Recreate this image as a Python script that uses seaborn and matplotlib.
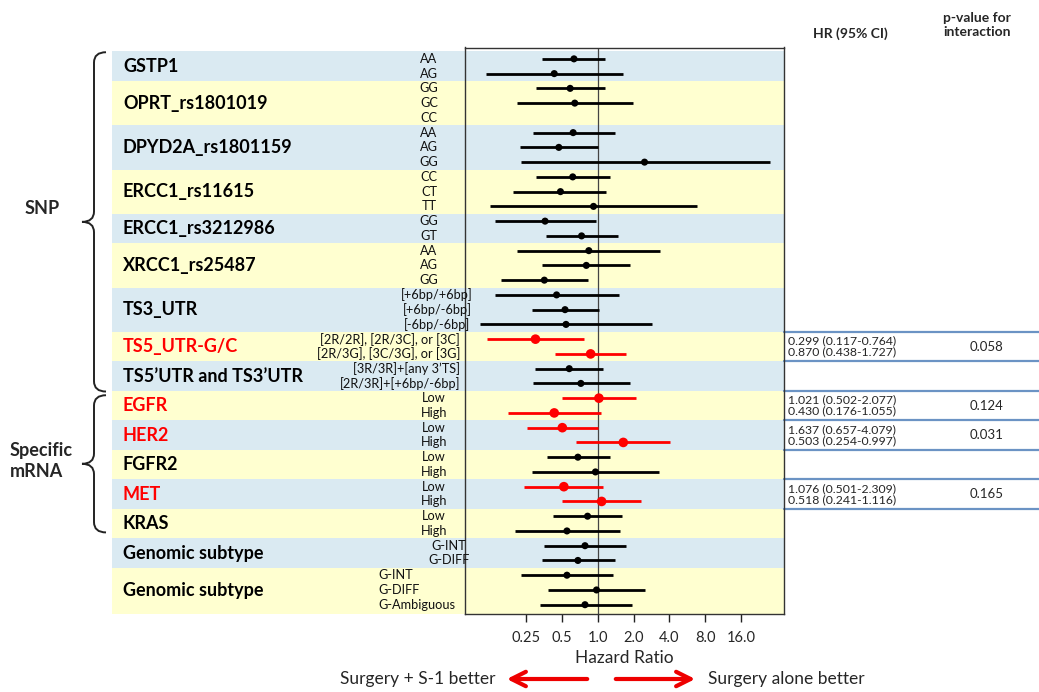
import matplotlib
matplotlib.use('Agg')
import matplotlib.pyplot as plt
import matplotlib.transforms as mtransforms
from matplotlib.patches import Rectangle, PathPatch
from matplotlib.path import Path
import numpy as np
import pandas as pd
import seaborn as sns

# --- data ------------------------------------------------------------------
genes = ['GSTP1', 'OPRT_rs1801019', 'DPYD2A_rs1801159', 'ERCC1_rs11615',
         'ERCC1_rs3212986', 'XRCC1_rs25487', 'TS3_UTR', 'TS5_UTR-G/C',
         'TS5\u2019UTR and TS3\u2019UTR', 'EGFR', 'HER2', 'FGFR2', 'MET', 'KRAS',
         'Genomic subtype', 'Genomic subtype']
subgroups = [
    ['AA', 'AG'],
    ['GG', 'GC', 'CC'],
    ['AA', 'AG', 'GG'],
    ['CC', 'CT', 'TT'],
    ['GG', 'GT'],
    ['AA', 'AG', 'GG'],
    ['[+6bp/+6bp]', '[+6bp/-6bp]', '[-6bp/-6bp]'],
    ['[2R/2R], [2R/3C], or [3C]', '[2R/3G], [3C/3G], or [3G]'],
    ['[3R/3R]+[any 3\u2019TS]', '[2R/3R]+[+6bp/-6bp]'],
    ['Low', 'High'],
    ['Low', 'High'],
    ['Low', 'High'],
    ['Low', 'High'],
    ['Low', 'High'],
    ['G-INT', 'G-DIFF'],
    ['G-INT', 'G-DIFF', 'G-Ambiguous'],
]
highlighted = ['TS5_UTR-G/C', 'EGFR', 'HER2', 'MET']

hr = [0.63, 0.43, 0.585, 0.64, np.nan, 0.62, 0.47, 2.47, 0.615, 0.485, 0.92,
      0.36, 0.73, 0.84, 0.80, 0.355, 0.45, 0.53, 0.54, 0.299, 0.870, 0.575,
      0.72, 1.021, 0.430, 0.503, 1.637, 0.68, 0.955, 0.518, 1.076, 0.82, 0.55,
      0.78, 0.68, 0.55, 0.975, 0.78]
ci_lo = [0.34, 0.115, 0.305, 0.21, np.nan, 0.285, 0.22, 0.225, 0.305, 0.195,
         0.123, 0.137, 0.366, 0.21, 0.34, 0.153, 0.137, 0.277, 0.103, 0.117,
         0.438, 0.297, 0.284, 0.502, 0.176, 0.254, 0.657, 0.372, 0.277, 0.241,
         0.501, 0.423, 0.2, 0.354, 0.338, 0.224, 0.38, 0.326]
ci_hi = [1.14, 1.62, 1.14, 1.98, np.nan, 1.39, 1.0, 28.0, 1.27, 1.17, 6.84,
         0.96, 1.48, 3.36, 1.86, 0.82, 1.52, 1.02, 2.88, 0.764, 1.727, 1.11,
         1.86, 2.077, 1.055, 0.997, 4.079, 1.27, 3.3, 1.116, 2.309, 1.59, 1.55,
         1.74, 1.39, 1.33, 2.51, 1.94]

table_genes = ['TS5_UTR-G/C', 'EGFR', 'HER2', 'MET']
table_hr = [['0.299 (0.117-0.764)', '0.870 (0.438-1.727)'],
            ['1.021 (0.502-2.077)', '0.430 (0.176-1.055)'],
            ['1.637 (0.657-4.079)', '0.503 (0.254-0.997)'],
            ['1.076 (0.501-2.309)', '0.518 (0.241-1.116)']]
table_p = ['0.058', '0.124', '0.031', '0.165']

xticks = [0.25, 0.5, 1.0, 2.0, 4.0, 8.0, 16.0]

# --- build the rows ----------------------------------------------------------
rows = []
for g_idx, (gene, subs) in enumerate(zip(genes, subgroups)):
    for s in subs:
        rows.append({'group': g_idx, 'gene': gene, 'sub': s})
df = pd.DataFrame(rows)
df['row'] = np.arange(len(df))
df['hr'] = hr
df['lo'] = ci_lo
df['hi'] = ci_hi
df['red'] = df['gene'].isin(highlighted)

n_rows = len(df)
y_top, y_bot = -0.77, n_rows - 1 + 0.63

g_first = df.groupby('group')['row'].min()
g_last = df.groupby('group')['row'].max()
band_top = (g_first - 0.5).clip(lower=y_top)
band_bot = (g_last + 0.5)
band_bot.iloc[-1] = y_bot

# --- figure ------------------------------------------------------------------
W, H = 1039, 692
sns.set_style('white')
plt.rcParams['font.family'] = ['Lato', 'DejaVu Sans']

fig = plt.figure(figsize=(W / 100, H / 100), dpi=100)
ax = fig.add_axes([465 / W, 1 - 614 / H, (784 - 465) / W, (614 - 47.5) / H])
ax.set_facecolor('none')

fx = lambda px: px / W
blend = mtransforms.blended_transform_factory(fig.transFigure, ax.transData)

blue_band = '#daeaf2'
yellow_band = '#ffffd0'
for g in g_first.index:
    col = blue_band if g % 2 == 0 else yellow_band
    ax.add_patch(Rectangle((fx(112), band_top[g]), fx(784) - fx(112),
                           band_bot[g] - band_top[g], transform=blend,
                           facecolor=col, edgecolor='none', clip_on=False, zorder=0.1))

# reference line at HR = 1
ax.axvline(1.0, color='#444444', lw=0.9, zorder=1)

# confidence intervals
for red, sub in df.dropna(subset=['hr']).groupby('red'):
    ax.hlines(sub['row'], sub['lo'], sub['hi'],
              color='#ff0000' if red else 'black', lw=2.0, zorder=2)

sns.scatterplot(data=df[~df['red']], x='hr', y='row', ax=ax, color='black',
                s=26, edgecolor='none', legend=False, zorder=3)
sns.scatterplot(data=df[df['red']], x='hr', y='row', ax=ax, color='#ff0000',
                s=48, edgecolor='none', legend=False, zorder=3)

ax.set_xscale('log', base=2)
ax.set_xlim(2 ** -3.71, 2 ** 5.2)
ax.set_ylim(y_bot, y_top)
ax.set_xticks(xticks)
ax.set_xticklabels([f'{t:g}' if t < 1 else f'{t:.1f}' for t in xticks], fontsize=10.5)
ax.xaxis.set_minor_locator(matplotlib.ticker.NullLocator())
ax.set_yticks([])
ax.set_ylabel('')
ax.set_xlabel('Hazard Ratio', fontsize=12.5, labelpad=4)
ax.tick_params(axis='x', direction='out', length=6, width=1, color='#222222',
               bottom=True, pad=6)
for sp in ax.spines.values():
    sp.set_visible(True)
    sp.set_color('#333333')
    sp.set_linewidth(1.0)

# gene labels
for g in g_first.index:
    gene = genes[g]
    mid = (band_top[g] + band_bot[g]) / 2
    ax.text(fx(123), mid, gene, transform=blend, ha='left', va='center',
            fontsize=13, fontweight='bold',
            color='#ff0000' if gene in highlighted else 'black')

# subgroup labels
for _, r in df.iterrows():
    g = r['group']
    if g == 6:
        x, ha = 437, 'center'
    elif g in (7, 8):
        x, ha = 460, 'right'
    elif g in (9, 10, 11, 12, 13):
        x, ha = 434, 'center'
    elif g == 14:
        x, ha = 449, 'center'
    elif g == 15:
        x, ha = 378, 'left'
    else:
        x, ha = 429, 'center'
    ax.text(fx(x), r['row'], r['sub'], transform=blend, ha=ha, va='center',
            fontsize=9.2, color='#111111')


# braces
def brace(y0, y1, x_line=94, x_end=106, x_tip=82, r=0.7):
    mid = (y0 + y1) / 2
    verts = [(fx(x_end), y0), (fx(x_line), y0), (fx(x_line), y0 + r),
             (fx(x_line), mid - r), (fx(x_line), mid), (fx(x_tip), mid),
             (fx(x_line), mid), (fx(x_line), mid + r),
             (fx(x_line), y1 - r), (fx(x_line), y1), (fx(x_end), y1)]
    codes = [Path.MOVETO, Path.CURVE3, Path.CURVE3, Path.LINETO, Path.CURVE3,
             Path.CURVE3, Path.CURVE3, Path.CURVE3, Path.LINETO, Path.CURVE3,
             Path.CURVE3]
    ax.add_patch(PathPatch(Path(verts, codes), transform=blend, facecolor='none',
                           edgecolor='#222222', lw=1.4, clip_on=False))
    return mid


snp_mid = brace(band_top[0] + 0.05, band_bot[8] + 0.05)
mrna_mid = brace(band_top[9] + 0.3, band_bot[13] - 0.4)
ax.text(fx(25), snp_mid - 0.9, 'SNP', transform=blend, ha='left', va='center',
        fontsize=13, fontweight='bold')
ax.text(fx(10), mrna_mid - 0.2, 'Specific\nmRNA', transform=blend, ha='left',
        va='center', fontsize=13, fontweight='bold', linespacing=1.25)

# table on the right
line_col = '#6b93c4'
bounds = sorted(set([band_top[genes.index('TS5_UTR-G/C')]] +
                    [band_bot[g] for g in range(7, 13)]))
for b in bounds:
    ax.plot([fx(784), fx(1039)], [b, b], transform=blend, color=line_col,
            lw=1.6, clip_on=False, zorder=2)
for gene, txt, p in zip(table_genes, table_hr, table_p):
    g = genes.index(gene)
    mid = (band_top[g] + band_bot[g]) / 2
    ax.text(fx(788), mid, '\n'.join(txt), transform=blend, ha='left',
            va='center', fontsize=8.8, linespacing=1.0)
    ax.text(fx(987), mid, p, transform=blend, ha='center', va='center',
            fontsize=9.5)

fig.text(fx(850), 1 - 34 / H, 'HR (95% CI)', ha='center', va='center',
         fontsize=10, fontweight='bold')
fig.text(fx(977), 1 - 25 / H, 'p-value for\ninteraction', ha='center',
         va='center', fontsize=10, fontweight='bold', linespacing=1.25)

# bottom arrows
ay = 1 - 679 / H
fig.add_artist(matplotlib.patches.FancyArrowPatch(
    (fx(590), ay), (fx(504), ay), transform=fig.transFigure,
    arrowstyle='->', mutation_scale=26, color='#ee0000', lw=3))
fig.add_artist(matplotlib.patches.FancyArrowPatch(
    (fx(613), ay), (fx(698), ay), transform=fig.transFigure,
    arrowstyle='->', mutation_scale=26, color='#ee0000', lw=3))
fig.text(fx(496), ay, 'Surgery + S-1 better', ha='right', va='center',
         fontsize=12.5)
fig.text(fx(708), ay, 'Surgery alone better', ha='left', va='center',
         fontsize=12.5)

fig.savefig('out.png', dpi=100)
